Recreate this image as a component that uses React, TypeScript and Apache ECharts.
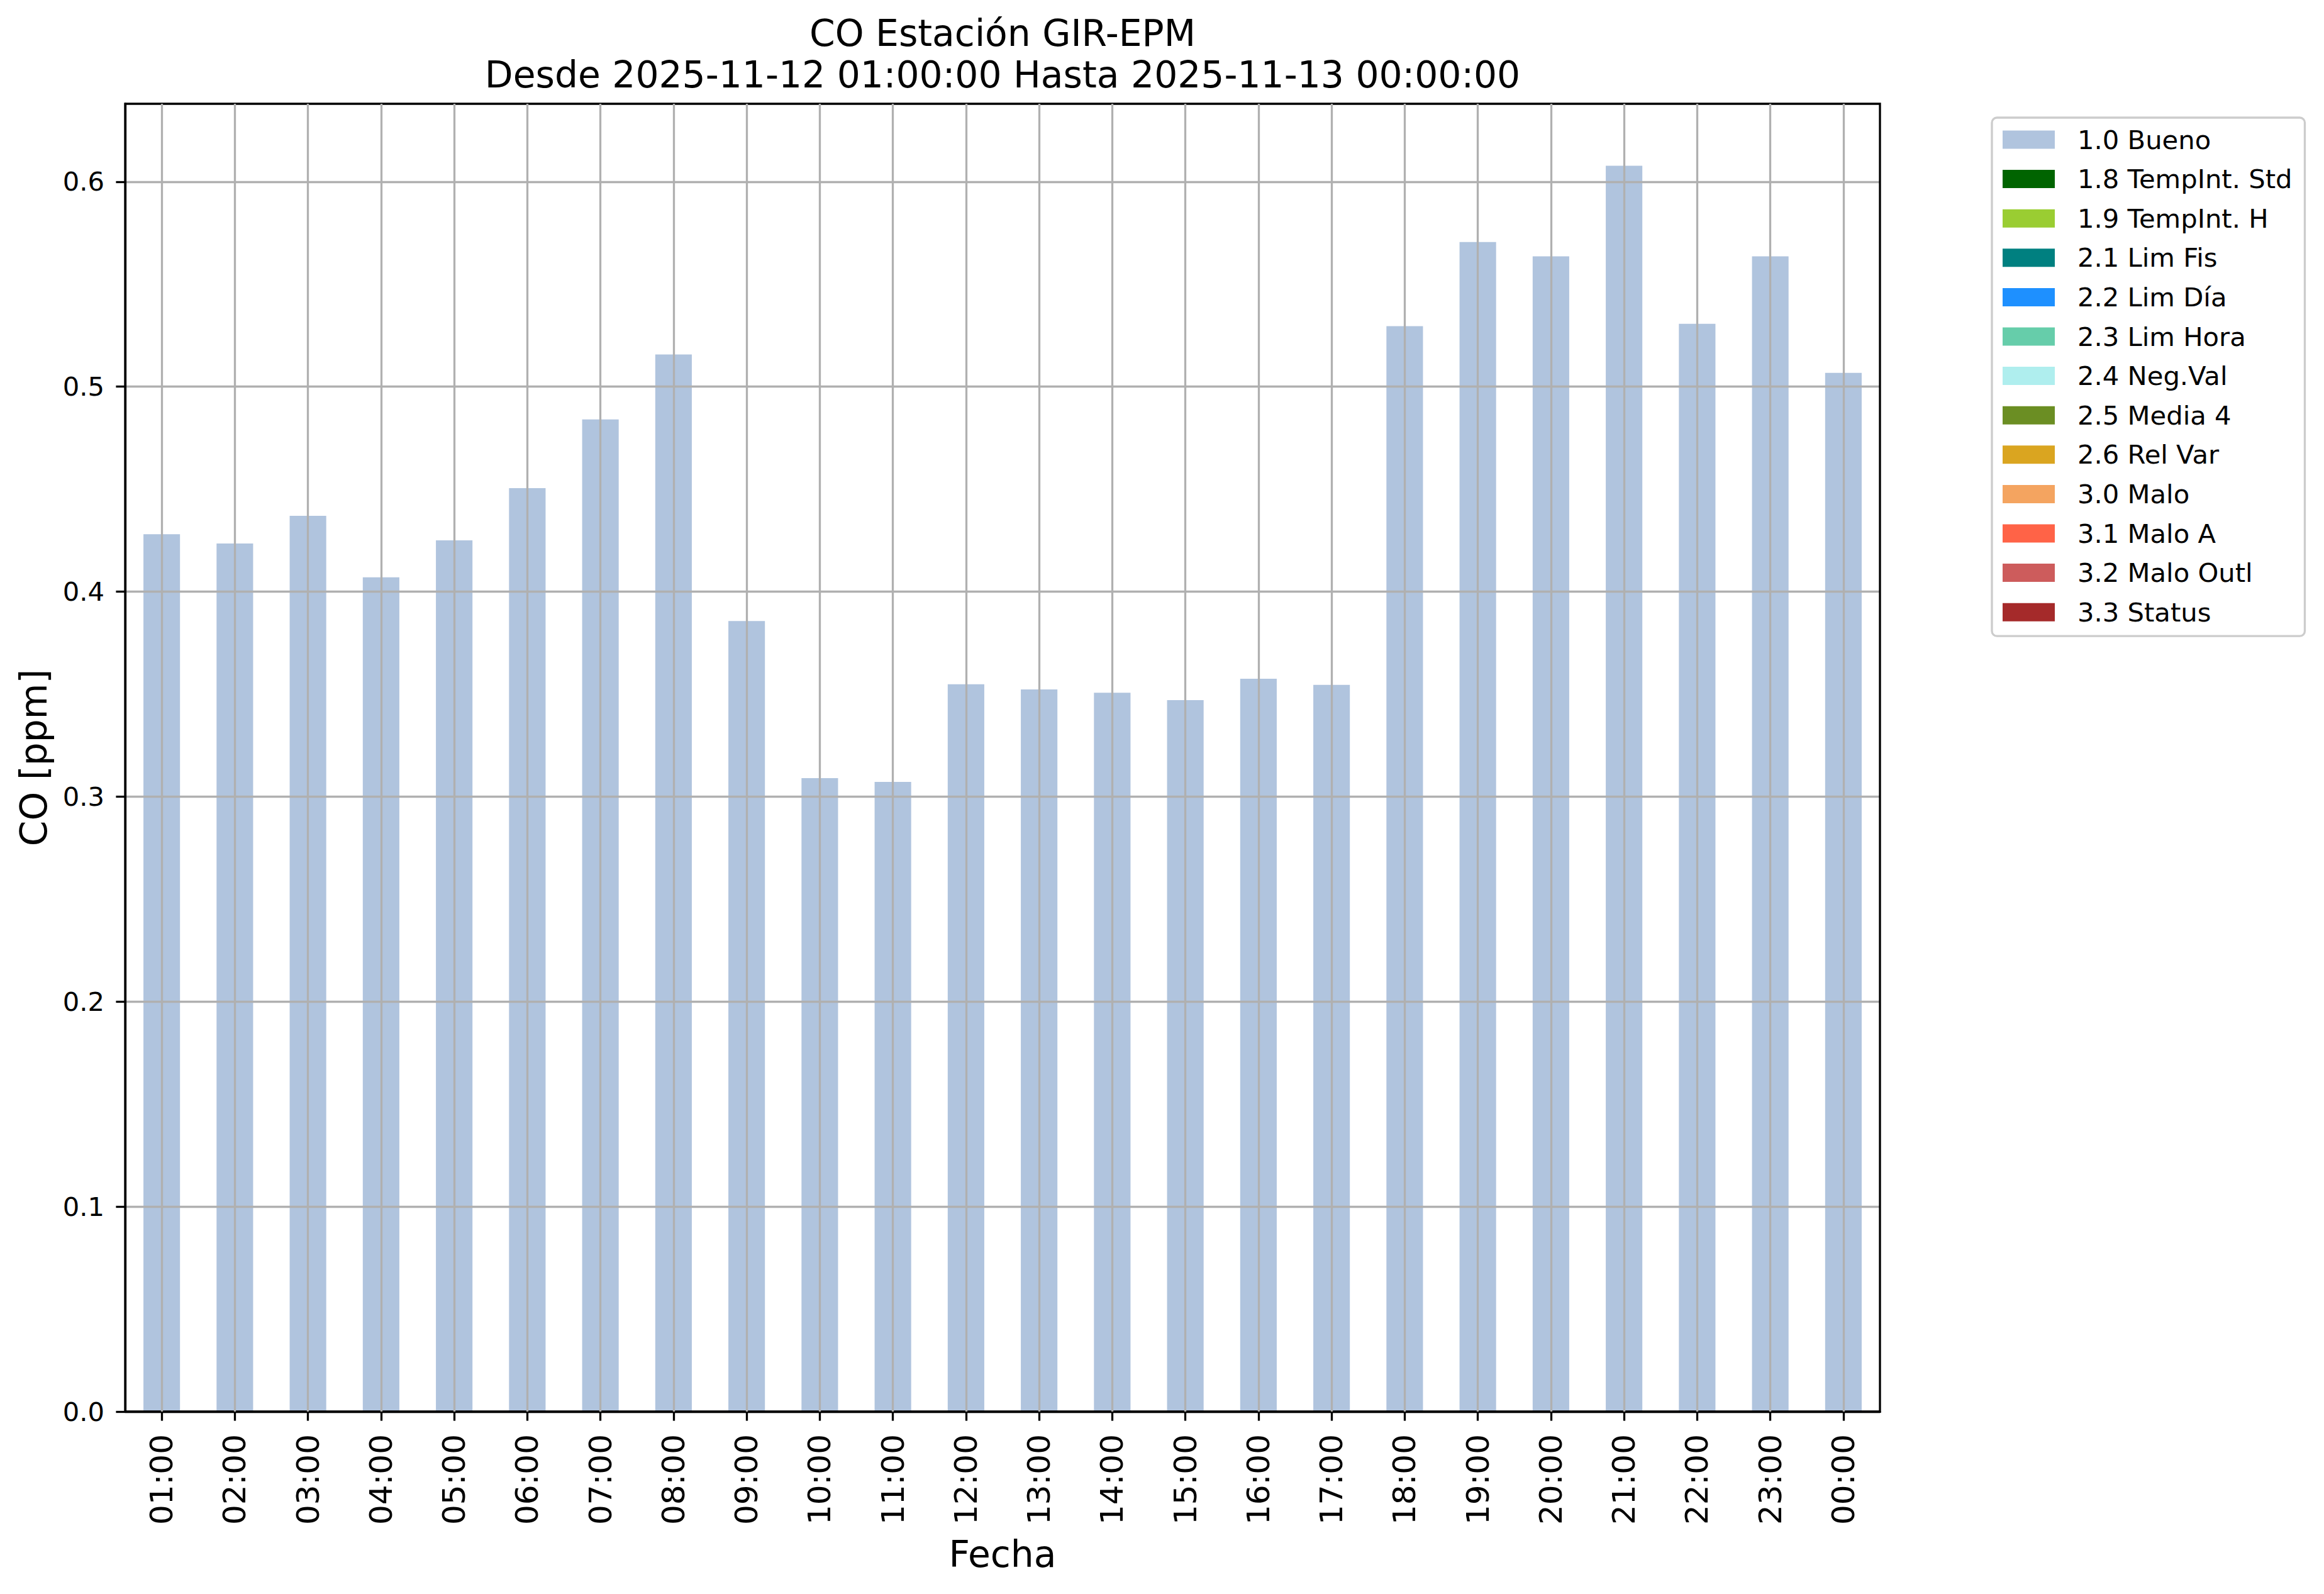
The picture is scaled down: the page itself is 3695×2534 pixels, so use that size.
import React, { useEffect, useRef } from "react";
import * as echarts from "echarts";

const hours = [
  "01:00", "02:00", "03:00", "04:00", "05:00", "06:00", "07:00", "08:00",
  "09:00", "10:00", "11:00", "12:00", "13:00", "14:00", "15:00", "16:00",
  "17:00", "18:00", "19:00", "20:00", "21:00", "22:00", "23:00", "00:00",
];

const buenoValues = [
  0.428, 0.4235, 0.437, 0.407, 0.425, 0.4505, 0.484, 0.5157,
  0.3857, 0.309, 0.3072, 0.3548, 0.3523, 0.3507, 0.3471, 0.3575,
  0.3545, 0.5295, 0.5706, 0.5636, 0.6078, 0.5307, 0.5636, 0.5067,
];

const flagNames = [
  "1.0 Bueno", "1.8 TempInt. Std", "1.9 TempInt. H", "2.1 Lim Fis", "2.2 Lim Día",
  "2.3 Lim Hora", "2.4 Neg.Val", "2.5 Media 4", "2.6 Rel Var", "3.0 Malo",
  "3.1 Malo A", "3.2 Malo Outl", "3.3 Status",
];

const flagColors = [
  "#b0c4de", "#006400", "#9acd32", "#008080", "#1e90ff",
  "#66cdaa", "#afeeee", "#6b8e23", "#daa520", "#f4a460",
  "#ff6347", "#cd5c5c", "#a52a2a",
];

const yTicks = [0, 0.1, 0.2, 0.3, 0.4, 0.5, 0.6];
const yMax = 0.638;

const titleLines = [
  "CO Estación GIR-EPM",
  "Desde 2025-11-12 01:00:00 Hasta 2025-11-13 00:00:00",
];
const xAxisName = "Fecha";
const yAxisName = "CO [ppm]";

const FONT = "DejaVu Sans";

export default function App() {
  const ref = useRef<HTMLDivElement>(null);

  useEffect(() => {
    if (!ref.current) return;
    const chart = echarts.init(ref.current, undefined, { renderer: "svg" });

    const series = flagNames.map((name, i) => ({
      name,
      type: "bar",
      stack: "total",
      barWidth: "50%",
      data: i === 0 ? buenoValues : [],
      itemStyle: { color: flagColors[i] },
      emphasis: { disabled: true },
      markLine:
        i === 0
          ? {
              silent: true,
              symbol: ["none", "none"],
              label: { show: false },
              lineStyle: { color: "#b0b0b0", width: 3.3, type: "solid", opacity: 1 },
              emphasis: { disabled: true },
              data: hours.map((h) => ({ xAxis: h })),
            }
          : undefined,
    }));

    chart.setOption({
      animation: false,
      backgroundColor: "#ffffff",
      grid: {
        left: 199,
        top: 165,
        width: 2790,
        height: 2079,
        show: true,
        z: 4,
        borderColor: "#000",
        borderWidth: 3.3,
        backgroundColor: "transparent",
      },
      graphic: titleLines.map((t, i) => ({
        type: "text",
        x: 1594,
        y: i === 0 ? 53 : 119,
        style: {
          text: t,
          fontSize: 58.3,
          fontFamily: FONT,
          fill: "#000",
          align: "center",
          verticalAlign: "middle",
        },
      })),
      legend: {
        orient: "vertical",
        left: 3167,
        top: 187,
        padding: [14, 20, 17, 17],
        itemGap: 20.6,
        itemWidth: 83,
        itemHeight: 29,
        icon: "rect",
        selectedMode: false,
        borderColor: "#cccccc",
        borderWidth: 3.3,
        borderRadius: 8,
        backgroundColor: "#ffffff",
        textStyle: {
          fontFamily: FONT,
          fontSize: 41.7,
          color: "#000",
          lineHeight: 42,
          padding: [0, 0, 0, 31],
        },
        data: flagNames,
      },
      xAxis: {
        type: "category",
        data: hours,
        z: 3,
        axisLine: { show: true, lineStyle: { color: "#000", width: 3.3 } },
        axisTick: {
          show: true,
          alignWithLabel: true,
          interval: 0,
          length: 14.6,
          lineStyle: { color: "#000", width: 3.3 },
        },
        axisLabel: {
          rotate: 90,
          interval: 0,
          fontSize: 50,
          fontFamily: FONT,
          color: "#000",
          margin: 36,
        },
        splitLine: { show: false },
        name: xAxisName,
        nameLocation: "middle",
        nameGap: 198,
        nameTextStyle: { fontSize: 58.3, fontFamily: FONT, color: "#000" },
      },
      yAxis: {
        type: "value",
        min: 0,
        max: yMax,
        interval: 0.1,
        z: 3,
        axisLine: { show: true, lineStyle: { color: "#000", width: 3.3 } },
        axisTick: {
          show: true,
          length: 14.6,
          lineStyle: { color: "#000", width: 3.3 },
          customValues: yTicks,
        },
        axisLabel: {
          customValues: yTicks,
          formatter: (v: number) => v.toFixed(1),
          fontSize: 41.7,
          fontFamily: FONT,
          color: "#000",
          margin: 33,
        },
        splitLine: { show: true, lineStyle: { color: "#b0b0b0", width: 3.3 } },
        name: yAxisName,
        nameLocation: "middle",
        nameGap: 116,
        nameRotate: 90,
        nameTextStyle: { fontSize: 58.3, fontFamily: FONT, color: "#000" },
      },
      series,
    });

    return () => chart.dispose();
  }, []);

  return (
    <div
      ref={ref}
      style={{
        position: "fixed",
        left: 0,
        top: 0,
        width: 3695,
        height: 2534,
        background: "#ffffff",
      }}
    />
  );
}
